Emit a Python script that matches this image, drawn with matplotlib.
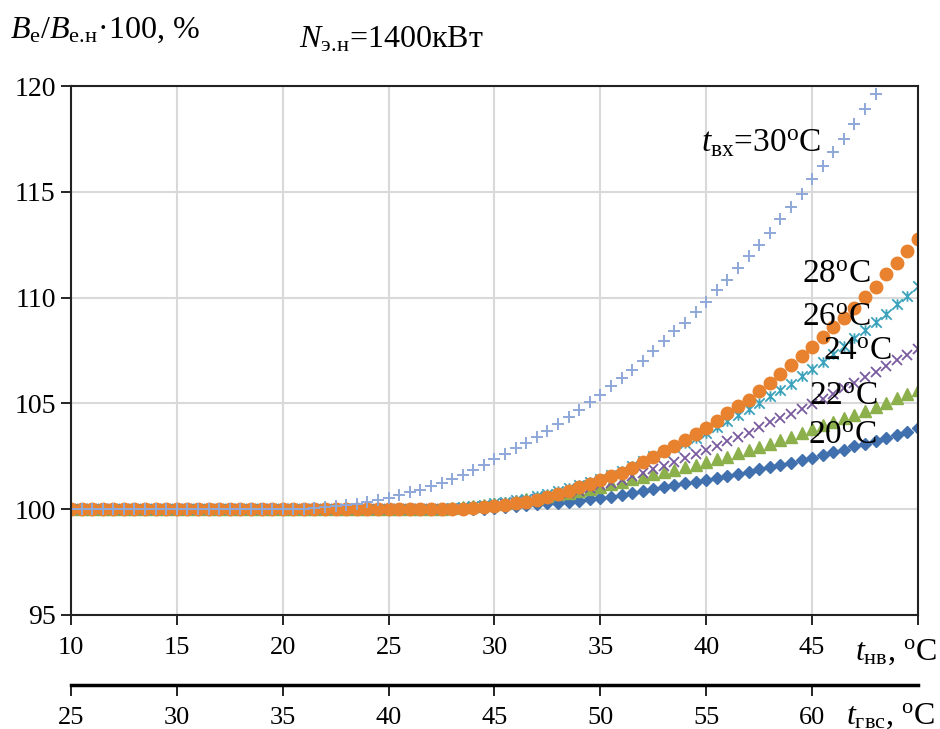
import numpy as np
import matplotlib
matplotlib.use("Agg")
import matplotlib.pyplot as plt
from matplotlib.path import Path

plt.rcParams['font.family'] = ['Liberation Serif', 'DejaVu Serif']
plt.rcParams['mathtext.fontset'] = 'custom'
plt.rcParams['mathtext.rm'] = 'Liberation Serif'
plt.rcParams['mathtext.it'] = 'Liberation Serif:italic'

# Outdoor air temperature, °C (primary axis)
t_nv = np.arange(10, 50.01, 0.5)

# B_e/B_e.n*100, % for different inlet temperatures
b_20 = [100.0, 100.0, 100.0, 100.0, 100.0, 100.0, 100.0, 100.0, 100.0, 100.0,
        100.0, 100.0, 100.0, 100.0, 100.0, 100.0, 100.0, 100.0, 100.0, 100.0,
        100.0, 100.0, 100.0, 100.0, 100.0, 100.0, 100.0, 100.0, 100.0, 100.0,
        100.0, 100.0, 100.0, 100.0, 100.0, 100.0, 100.0, 100.0, 100.01, 100.02,
        100.05, 100.09, 100.13, 100.18, 100.23, 100.27, 100.31, 100.36, 100.41, 100.47,
        100.53, 100.59, 100.67, 100.76, 100.86, 100.94, 101.03, 101.12, 101.22, 101.3,
        101.39, 101.48, 101.58, 101.67, 101.78, 101.9, 101.99, 102.1, 102.2, 102.32,
        102.44, 102.57, 102.69, 102.82, 102.97, 103.1, 103.24, 103.37, 103.49, 103.66,
        103.85]
b_22 = [100.0, 100.0, 100.0, 100.0, 100.0, 100.0, 100.0, 100.0, 100.0, 100.0,
        100.0, 100.0, 100.0, 100.0, 100.0, 100.0, 100.0, 100.0, 100.0, 100.0,
        100.0, 100.0, 100.0, 100.0, 100.0, 100.0, 100.0, 100.0, 100.0, 100.0,
        100.0, 100.0, 100.0, 100.0, 100.01, 100.03, 100.06, 100.1, 100.14, 100.19,
        100.25, 100.31, 100.38, 100.46, 100.54, 100.62, 100.7, 100.78, 100.87, 100.97,
        101.07, 101.18, 101.29, 101.42, 101.53, 101.65, 101.76, 101.87, 101.98, 102.1,
        102.22, 102.35, 102.49, 102.64, 102.81, 102.96, 103.1, 103.27, 103.43, 103.6,
        103.78, 103.96, 104.13, 104.3, 104.47, 104.64, 104.82, 105.02, 105.24, 105.44,
        105.65]
b_24 = [100.0, 100.0, 100.0, 100.0, 100.0, 100.0, 100.0, 100.0, 100.0, 100.0,
        100.0, 100.0, 100.0, 100.0, 100.0, 100.0, 100.0, 100.0, 100.0, 100.0,
        100.0, 100.0, 100.0, 100.0, 100.0, 100.0, 100.0, 100.0, 100.0, 100.0,
        100.0, 100.0, 100.0, 100.0, 100.0, 100.01, 100.03, 100.05, 100.08, 100.12,
        100.17, 100.23, 100.3, 100.38, 100.47, 100.56, 100.66, 100.77, 100.88, 101.0,
        101.13, 101.26, 101.4, 101.55, 101.72, 101.9, 102.06, 102.25, 102.42, 102.6,
        102.82, 103.0, 103.2, 103.4, 103.62, 103.88, 104.1, 104.3, 104.52, 104.74,
        104.97, 105.2, 105.45, 105.73, 105.98, 106.24, 106.5, 106.77, 107.03, 107.28,
        107.55]
b_26 = [100.0, 100.0, 100.0, 100.0, 100.0, 100.0, 100.0, 100.0, 100.0, 100.0,
        100.0, 100.0, 100.0, 100.0, 100.0, 100.0, 100.0, 100.0, 100.0, 100.0,
        100.0, 100.0, 100.0, 100.0, 100.0, 100.0, 100.0, 100.0, 100.0, 100.0,
        100.0, 100.0, 100.0, 100.01, 100.02, 100.03, 100.05, 100.1, 100.15, 100.2,
        100.27, 100.34, 100.42, 100.5, 100.6, 100.72, 100.85, 100.98, 101.12, 101.28,
        101.45, 101.62, 101.82, 102.04, 102.28, 102.5, 102.72, 102.94, 103.14, 103.38,
        103.6, 103.88, 104.18, 104.47, 104.72, 105.03, 105.33, 105.65, 105.94, 106.28,
        106.64, 106.98, 107.35, 107.72, 108.1, 108.46, 108.86, 109.24, 109.68, 110.08,
        110.54]
b_28 = [100.0, 100.0, 100.0, 100.0, 100.0, 100.0, 100.0, 100.0, 100.0, 100.0,
        100.0, 100.0, 100.0, 100.0, 100.0, 100.0, 100.0, 100.0, 100.0, 100.0,
        100.0, 100.0, 100.0, 100.0, 100.0, 100.0, 100.0, 100.0, 100.0, 100.0,
        100.0, 100.0, 100.0, 100.0, 100.0, 100.0, 100.0, 100.03, 100.07, 100.11,
        100.16, 100.22, 100.28, 100.35, 100.44, 100.56, 100.7, 100.86, 101.03, 101.2,
        101.37, 101.56, 101.73, 101.97, 102.23, 102.48, 102.75, 102.99, 103.27, 103.57,
        103.85, 104.18, 104.56, 104.87, 105.18, 105.58, 105.98, 106.39, 106.8, 107.25,
        107.68, 108.15, 108.6, 109.05, 109.52, 110.02, 110.52, 111.1, 111.65, 112.18,
        112.75]
b_30 = [100.0, 100.0, 100.0, 100.0, 100.0, 100.0, 100.0, 100.0, 100.0, 100.0,
        100.0, 100.0, 100.0, 100.0, 100.0, 100.0, 100.0, 100.0, 100.0, 100.0,
        100.0, 100.0, 100.02, 100.05, 100.08, 100.14, 100.19, 100.25, 100.34, 100.43,
        100.55, 100.66, 100.8, 100.93, 101.08, 101.22, 101.42, 101.6, 101.85, 102.1,
        102.36, 102.6, 102.88, 103.12, 103.4, 103.7, 104.05, 104.38, 104.7, 105.05,
        105.4, 105.8, 106.2, 106.6, 107.0, 107.5, 107.95, 108.4, 108.8, 109.3,
        109.8, 110.35, 110.85, 111.4, 111.95, 112.5, 113.05, 113.7, 114.3, 114.9,
        115.6, 116.2, 116.9, 117.5, 118.2, 118.9, 119.6]

x_ticks = [10, 15, 20, 25, 30, 35, 40, 45, 50]
x_labels = ['10', '15', '20', '25', '30', '35', '40', '45', '']
gvs_ticks = [25, 30, 35, 40, 45, 50, 55, 60]
y_ticks = [95, 100, 105, 110, 115, 120]

# Excel-like "star" marker: x with a vertical bar
star = Path([(-1, -1), (1, 1), (-1, 1), (1, -1), (0, -1), (0, 1)],
            [Path.MOVETO, Path.LINETO, Path.MOVETO, Path.LINETO, Path.MOVETO, Path.LINETO])

fig = plt.figure(figsize=(9.4, 7.29), dpi=100)
ax = fig.add_axes([0.0755, 0.1564, 0.9011, 0.7256])

ax.plot(t_nv, b_20, 'D', color='#4170AE', ms=6.5, ls='none')
ax.plot(t_nv, b_22, '^', color='#8CB04B', ms=8, ls='none')
ax.plot(t_nv, b_24, 'x', color='#7A5A9E', ms=7.5, mew=1.3, ls='none')
ax.plot(t_nv, b_26, marker=star, color='#3DA3BC', ms=7.5, mew=1.3, ls='none')
ax.plot(t_nv, b_28, 'o', color='#E8822F', ms=9, ls='none')
ax.plot(t_nv[:len(b_30)], b_30, '+', color='#8EA8D8', ms=9, mew=1.4, ls='none')

ax.set_xlim(10, 50)
ax.set_ylim(95, 120)
ax.set_xticks(x_ticks)
ax.set_xticklabels(x_labels)
ax.set_yticks(y_ticks)
ax.grid(True, color='#D9D9D9', lw=1.5)
ax.set_axisbelow(True)
for s in ax.spines.values():
    s.set_color('#222222')
    s.set_linewidth(1.5)
ax.tick_params(axis='y', labelsize=20, length=7, width=1.2, pad=4)
ax.tick_params(axis='x', labelsize=19, length=7, width=1.2, pad=9)

# second x-axis: hot water temperature
sec = ax.secondary_xaxis(-0.132, functions=(lambda x: x + 15, lambda x: x - 15))
sec.set_xticks(gvs_ticks)
sec.tick_params(labelsize=19, length=8, width=1.2, pad=8)
sec.spines['bottom'].set_linewidth(2.5)

fig.text(0.997, 1 - 652 / 729, r'$t_{\mathrm{нв}}$, $^{\mathrm{o}}$C',
         fontsize=23, ha='right', va='center')
fig.text(0.995, 1 - 716 / 729, r'$t_{\mathrm{гвс}}$, $^{\mathrm{o}}$C',
         fontsize=23, ha='right', va='center')

# curve labels
ax.text(39.75, 117.3, r'$t_{\mathrm{вх}}$=30$^{\mathrm{o}}$C', fontsize=24, va='center')
ax.text(44.5, 111.1, r'28$^{\mathrm{o}}$C', fontsize=24, va='center')
ax.text(44.5, 109.05, r'26$^{\mathrm{o}}$C', fontsize=24, va='center')
ax.text(45.5, 107.45, r'24$^{\mathrm{o}}$C', fontsize=24, va='center')
ax.text(44.85, 105.3, r'22$^{\mathrm{o}}$C', fontsize=24, va='center')
ax.text(44.8, 103.45, r'20$^{\mathrm{o}}$C', fontsize=24, va='center')

fig.text(0.011, 1 - 30 / 729, r'$B_{\mathrm{e}}/B_{\mathrm{е.\!н}}$·100, %', fontsize=23, va='center')
fig.text(0.318, 1 - 40 / 729, r'$N_{\mathrm{э.\!н}}$=1400кВт', fontsize=23, va='center')

fig.savefig('out.png', dpi=100)
